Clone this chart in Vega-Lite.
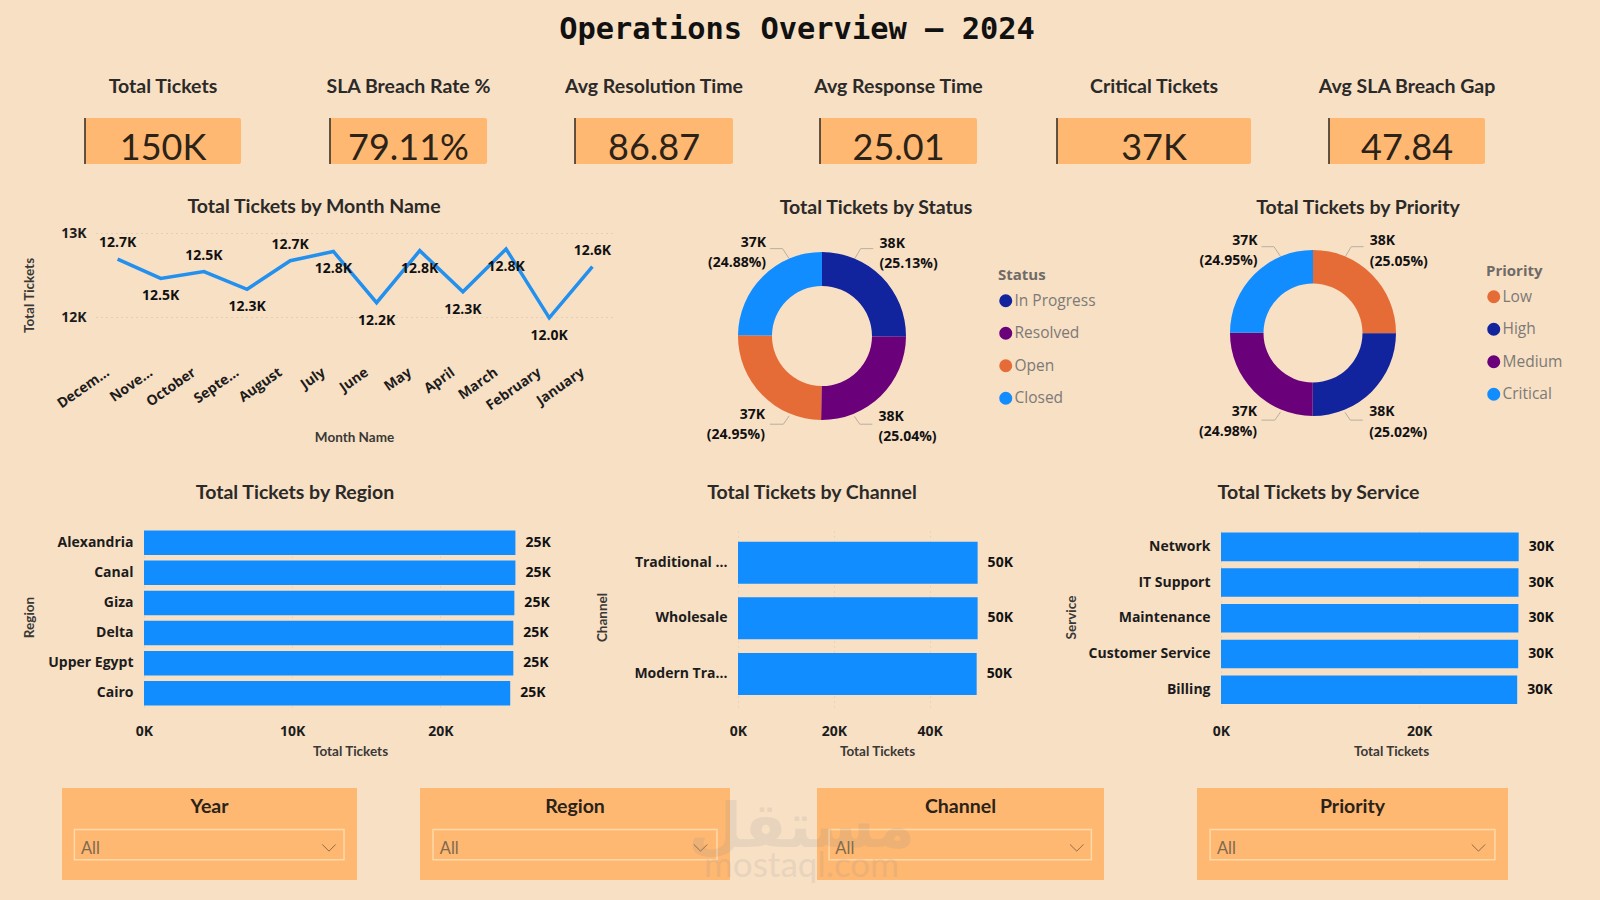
{"$schema":"https://vega.github.io/schema/vega-lite/v6.json","background":"#F8E0C5","padding":0,"spacing":0,"bounds":"flush",
"datasets":{
"months":[{"month":"Decem...","tickets":12690,"label":"12.7K"},{"month":"Nove...","tickets":12460,"label":"12.5K"},{"month":"October","tickets":12540,"label":"12.5K"},{"month":"Septe...","tickets":12330,"label":"12.3K"},{"month":"August","tickets":12670,"label":"12.7K"},{"month":"July","tickets":12780,"label":"12.8K"},{"month":"June","tickets":12170,"label":"12.2K"},{"month":"May","tickets":12790,"label":"12.8K"},{"month":"April","tickets":12300,"label":"12.3K"},{"month":"March","tickets":12810,"label":"12.8K"},{"month":"February","tickets":11990,"label":"12.0K"},{"month":"January","tickets":12600,"label":"12.6K"}],
"status":[{"status":"In Progress","rank":1,"tickets":37695,"label":"38K\n(25.13%)"},{"status":"Resolved","rank":2,"tickets":37560,"label":"38K\n(25.04%)"},{"status":"Open","rank":3,"tickets":37425,"label":"37K\n(24.95%)"},{"status":"Closed","rank":4,"tickets":37320,"label":"37K\n(24.88%)"}],
"priority":[{"priority":"Low","rank":1,"tickets":37575,"label":"38K\n(25.05%)"},{"priority":"High","rank":2,"tickets":37530,"label":"38K\n(25.02%)"},{"priority":"Medium","rank":3,"tickets":37470,"label":"37K\n(24.98%)"},{"priority":"Critical","rank":4,"tickets":37425,"label":"37K\n(24.95%)"}],
"leaders":[{"c":"TR","i":0,"lx":0.39,"ly":0.92},{"c":"TR","i":1,"lx":0.46,"ly":1.04},{"c":"TR","i":2,"lx":0.61,"ly":1.04},{"c":"BR","i":0,"lx":0.385,"ly":-0.956},{"c":"BR","i":1,"lx":0.45,"ly":-1.05},{"c":"BR","i":2,"lx":0.6,"ly":-1.05},{"c":"TL","i":0,"lx":-0.39,"ly":0.92},{"c":"TL","i":1,"lx":-0.47,"ly":1.04},{"c":"TL","i":2,"lx":-0.62,"ly":1.04},{"c":"BL","i":0,"lx":-0.39,"ly":-0.95},{"c":"BL","i":1,"lx":-0.46,"ly":-1.05},{"c":"BL","i":2,"lx":-0.62,"ly":-1.05}],
"region":[{"name":"Alexandria","tickets":25070,"label":"25K"},{"name":"Canal","tickets":25070,"label":"25K"},{"name":"Giza","tickets":25000,"label":"25K"},{"name":"Delta","tickets":24930,"label":"25K"},{"name":"Upper Egypt","tickets":24930,"label":"25K"},{"name":"Cairo","tickets":24720,"label":"25K"}],
"channel":[{"name":"Traditional ...","tickets":50000,"label":"50K"},{"name":"Wholesale","tickets":50000,"label":"50K"},{"name":"Modern Tra...","tickets":49800,"label":"50K"}],
"service":[{"name":"Network","tickets":30050,"label":"30K"},{"name":"IT Support","tickets":30030,"label":"30K"},{"name":"Maintenance","tickets":30020,"label":"30K"},{"name":"Customer Service","tickets":30000,"label":"30K"},{"name":"Billing","tickets":29900,"label":"30K"}]
},
"config":{"view":{"stroke":null},"font":"Open Sans",
"title":{"font":"Lato","fontSize":19.5,"fontWeight":"bold","color":"#2b2a28","anchor":"middle"},
"axis":{"domain":false,"ticks":false,"labelFlush":false,"labelFont":"Open Sans","labelFontWeight":"bold","labelFontSize":14,"labelColor":"#1c1c1c","titleFont":"Lato","titleFontWeight":"bold","titleFontSize":13.5,"titleColor":"#3a3936"},
"legend":{"titleFont":"Open Sans","titleFontWeight":"bold","titleFontSize":15,"titleColor":"#6f6b66","labelFont":"Open Sans","labelFontSize":15.5,"labelColor":"#7d7a75","symbolType":"circle","symbolSize":170,"symbolStrokeWidth":0,"rowPadding":15.5,"labelOffset":1,"titlePadding":10},
"text":{"font":"Open Sans","fontWeight":"bold","fontSize":14,"color":"#111111"}},
"vconcat":[
{"width":1600,"height":60,"data":{"values":[{"label":"Operations Overview — 2024"}]},"mark":{"type":"text","font":"DejaVu Sans Mono","fontWeight":"bold","fontSize":30.4,"color":"#111111","dx":-3},"encoding":{"text":{"field":"label"}}},
{"width":1600,"height":58,"data":{"values":[{"f":0}]},"mark":{"type":"point","opacity":0}},
{"spacing":0,"bounds":"flush","hconcat":[
{"width":85,"height":46,"data":{"values":[{"f":0}]},"mark":{"type":"point","opacity":0}},
{"width":156,"height":46,"title":{"text":"Total Tickets","offset":20},"view":{"fill":"#FEB872","cornerRadius":2},"data":{"values":[{"label":"150K"}]},"layer":[{"mark":{"type":"rule","color":"#3a3028","strokeWidth":1.6},"encoding":{"x":{"datum":0,"scale":{"domain":[0,1]},"axis":null}}},{"mark":{"type":"text","font":"Lato","fontWeight":"normal","fontSize":36,"color":"#2b2218","dy":8},"encoding":{"text":{"field":"label"}}}]},
{"width":89,"height":46,"data":{"values":[{"f":0}]},"mark":{"type":"point","opacity":0}},
{"width":157,"height":46,"title":{"text":"SLA Breach Rate %","offset":20},"view":{"fill":"#FEB872","cornerRadius":2},"data":{"values":[{"label":"79.11%"}]},"layer":[{"mark":{"type":"rule","color":"#3a3028","strokeWidth":1.6},"encoding":{"x":{"datum":0,"scale":{"domain":[0,1]},"axis":null}}},{"mark":{"type":"text","font":"Lato","fontWeight":"normal","fontSize":36,"color":"#2b2218","dy":8},"encoding":{"text":{"field":"label"}}}]},
{"width":88,"height":46,"data":{"values":[{"f":0}]},"mark":{"type":"point","opacity":0}},
{"width":158,"height":46,"title":{"text":"Avg Resolution Time","offset":20},"view":{"fill":"#FEB872","cornerRadius":2},"data":{"values":[{"label":"86.87"}]},"layer":[{"mark":{"type":"rule","color":"#3a3028","strokeWidth":1.6},"encoding":{"x":{"datum":0,"scale":{"domain":[0,1]},"axis":null}}},{"mark":{"type":"text","font":"Lato","fontWeight":"normal","fontSize":36,"color":"#2b2218","dy":8},"encoding":{"text":{"field":"label"}}}]},
{"width":87,"height":46,"data":{"values":[{"f":0}]},"mark":{"type":"point","opacity":0}},
{"width":157,"height":46,"title":{"text":"Avg Response Time","offset":20},"view":{"fill":"#FEB872","cornerRadius":2},"data":{"values":[{"label":"25.01"}]},"layer":[{"mark":{"type":"rule","color":"#3a3028","strokeWidth":1.6},"encoding":{"x":{"datum":0,"scale":{"domain":[0,1]},"axis":null}}},{"mark":{"type":"text","font":"Lato","fontWeight":"normal","fontSize":36,"color":"#2b2218","dy":8},"encoding":{"text":{"field":"label"}}}]},
{"width":80,"height":46,"data":{"values":[{"f":0}]},"mark":{"type":"point","opacity":0}},
{"width":194,"height":46,"title":{"text":"Critical Tickets","offset":20},"view":{"fill":"#FEB872","cornerRadius":2},"data":{"values":[{"label":"37K"}]},"layer":[{"mark":{"type":"rule","color":"#3a3028","strokeWidth":1.6},"encoding":{"x":{"datum":0,"scale":{"domain":[0,1]},"axis":null}}},{"mark":{"type":"text","font":"Lato","fontWeight":"normal","fontSize":36,"color":"#2b2218","dy":8},"encoding":{"text":{"field":"label"}}}]},
{"width":78,"height":46,"data":{"values":[{"f":0}]},"mark":{"type":"point","opacity":0}},
{"width":156,"height":46,"title":{"text":"Avg SLA Breach Gap","offset":20},"view":{"fill":"#FEB872","cornerRadius":2},"data":{"values":[{"label":"47.84"}]},"layer":[{"mark":{"type":"rule","color":"#3a3028","strokeWidth":1.6},"encoding":{"x":{"datum":0,"scale":{"domain":[0,1]},"axis":null}}},{"mark":{"type":"text","font":"Lato","fontWeight":"normal","fontSize":36,"color":"#2b2218","dy":8},"encoding":{"text":{"field":"label"}}}]}
]},
{"width":1600,"height":115,"data":{"values":[{"f":0}]},"mark":{"type":"point","opacity":0}},
{"spacing":0,"bounds":"flush","resolve":{"scale":{"color":"independent"},"legend":{"color":"independent"}},"hconcat":[
{"width":96,"height":206,"data":{"values":[{"f":0}]},"mark":{"type":"point","opacity":0}},
{"width":518,"height":84,"title":{"text":"Total Tickets by Month Name","dx":-41,"offset":9},"data":{"name":"months"},
"encoding":{"x":{"field":"month","type":"ordinal","sort":null,"scale":{"type":"point","padding":0.5},"axis":{"title":"Month Name","labelAngle":-35,"labelAlign":"right","labelBaseline":"top","labelPadding":48,"labelOffset":-14,"labelFontSize":14,"titleX":258,"titleY":120,"titleBaseline":"middle","labelOverlap":false}},
"y":{"field":"tickets","type":"quantitative","scale":{"domain":[12000,13000]},"axis":{"title":"Total Tickets","values":[12000,13000],"labelExpr":"datum.value/1000+'K'","grid":true,"gridDash":[1,4],"gridColor":"#c9bfae","labelPadding":10,"titleX":-60,"titleY":62}}},
"layer":[{"mark":{"type":"line","color":"#2490EE","strokeWidth":3.5,"clip":false}},
{"transform":[{"filter":{"field":"month","oneOf":["Decem...","October","August","January"]}}],"mark":{"type":"text","dy":-16},"encoding":{"text":{"field":"label"}}},
{"transform":[{"filter":{"field":"month","oneOf":["Nove...","Septe...","July","June","May","April","March","February"]}}],"mark":{"type":"text","dy":18},"encoding":{"text":{"field":"label"}}}]},
{"width":124,"height":206,"data":{"values":[{"f":0}]},"mark":{"type":"point","opacity":0}},
{"width":168,"height":206,"title":{"text":"Total Tickets by Status","dx":54,"offset":15},
"layer":[
{"data":{"name":"leaders"},"mark":{"type":"line","color":"#b8aea0","strokeWidth":1},"encoding":{"x":{"field":"lx","type":"quantitative","scale":{"domain":[-1,1]},"axis":null},"y":{"field":"ly","type":"quantitative","scale":{"domain":[-1.226,1.226]},"axis":null},"detail":{"field":"c"},"order":{"field":"i"}}},
{"data":{"name":"status"},"mark":{"type":"arc","outerRadius":84,"innerRadius":50},"encoding":{"theta":{"field":"tickets","type":"quantitative","stack":true},"order":{"field":"rank"},"color":{"field":"status","type":"nominal","scale":{"domain":["In Progress","Resolved","Open","Closed"],"range":["#12239E","#6B007B","#E66C37","#118DFF"]},"legend":{"title":"Status","orient":"none","legendX":260,"legendY":35}}}},
{"data":{"name":"status"},"mark":{"type":"text","radius":122,"lineBreak":"\n","lineHeight":20.5,"align":"left","dx":-29,"dy":-6.5},"encoding":{"theta":{"field":"tickets","type":"quantitative","stack":true},"order":{"field":"rank"},"detail":{"field":"status"},"text":{"condition":{"test":"datum.rank<=2","field":"label"},"value":""}}},
{"data":{"name":"status"},"mark":{"type":"text","radius":122,"lineBreak":"\n","lineHeight":20.5,"align":"right","dx":30,"dy":-6.5},"encoding":{"theta":{"field":"tickets","type":"quantitative","stack":true},"order":{"field":"rank"},"detail":{"field":"status"},"text":{"condition":{"test":"datum.rank>2","field":"label"},"value":""}}}
]},
{"width":324,"height":206,"data":{"values":[{"f":0}]},"mark":{"type":"point","opacity":0}},
{"width":166,"height":200,"title":{"text":"Total Tickets by Priority","dx":45,"offset":15},
"layer":[
{"data":{"name":"leaders"},"mark":{"type":"line","color":"#b8aea0","strokeWidth":1},"encoding":{"x":{"field":"lx","type":"quantitative","scale":{"domain":[-1,1]},"axis":null},"y":{"field":"ly","type":"quantitative","scale":{"domain":[-1.205,1.205]},"axis":null},"detail":{"field":"c"},"order":{"field":"i"}}},
{"data":{"name":"priority"},"mark":{"type":"arc","outerRadius":83,"innerRadius":49.5},"encoding":{"theta":{"field":"tickets","type":"quantitative","stack":true},"order":{"field":"rank"},"color":{"field":"priority","type":"nominal","scale":{"domain":["Low","High","Medium","Critical"],"range":["#E66C37","#12239E","#6B007B","#118DFF"]},"legend":{"title":"Priority","orient":"none","legendX":256,"legendY":31}}}},
{"data":{"name":"priority"},"mark":{"type":"text","radius":121,"lineBreak":"\n","lineHeight":20.5,"align":"left","dx":-29,"dy":-6.5},"encoding":{"theta":{"field":"tickets","type":"quantitative","stack":true},"order":{"field":"rank"},"detail":{"field":"priority"},"text":{"condition":{"test":"datum.rank<=2","field":"label"},"value":""}}},
{"data":{"name":"priority"},"mark":{"type":"text","radius":121,"lineBreak":"\n","lineHeight":20.5,"align":"right","dx":30,"dy":-6.5},"encoding":{"theta":{"field":"tickets","type":"quantitative","stack":true},"order":{"field":"rank"},"detail":{"field":"priority"},"text":{"condition":{"test":"datum.rank>2","field":"label"},"value":""}}}
]}
]},
{"width":1600,"height":294,"data":{"values":[{"f":0}]},"mark":{"type":"point","opacity":0}},
{"spacing":0,"bounds":"flush","hconcat":[
{"width":144,"height":180,"data":{"values":[{"f":0}]},"mark":{"type":"point","opacity":0}},
{"width":400,"height":180,"title":{"text":"Total Tickets by Region","dx":-49,"offset":24},"data":{"name":"region"},
"encoding":{"y":{"field":"name","type":"nominal","sort":null,"scale":{"paddingInner":0.186,"paddingOuter":0.083,"align":0.7},"axis":{"title":"Region","labelPadding":11,"titleX":-108}},
"x":{"field":"tickets","type":"quantitative","scale":{"domain":[0,27000]},"axis":{"title":"Total Tickets","values":[0,10000,20000],"labelExpr":"datum.value/1000+'K'","grid":true,"gridDash":[1,4],"gridColor":"#d4c8b4","labelPadding":17,"titleX":206,"titleY":44,"titleBaseline":"middle"}}},
"layer":[{"mark":{"type":"bar","color":"#118DFF"}},{"mark":{"type":"text","align":"left","dx":10},"encoding":{"text":{"field":"label"}}}]},
{"width":194,"height":180,"data":{"values":[{"f":0}]},"mark":{"type":"point","opacity":0}},
{"width":254,"height":180,"title":{"text":"Total Tickets by Channel","dx":-53,"offset":24},"data":{"name":"channel"},
"encoding":{"y":{"field":"name","type":"nominal","sort":null,"scale":{"paddingInner":0.245,"paddingOuter":0.241,"align":0.55},"axis":{"title":"Channel","labelPadding":11,"titleX":-129}},
"x":{"field":"tickets","type":"quantitative","scale":{"domain":[0,53000]},"axis":{"title":"Total Tickets","values":[0,20000,40000],"labelExpr":"datum.value/1000+'K'","grid":true,"gridDash":[1,4],"gridColor":"#d4c8b4","labelPadding":17,"titleX":139,"titleY":44,"titleBaseline":"middle"}}},
"layer":[{"mark":{"type":"bar","color":"#118DFF"}},{"mark":{"type":"text","align":"left","dx":10},"encoding":{"text":{"field":"label"}}}]},
{"width":229,"height":180,"data":{"values":[{"f":0}]},"mark":{"type":"point","opacity":0}},
{"width":317,"height":180,"title":{"text":"Total Tickets by Service","dx":-61,"offset":24},"data":{"name":"service"},
"encoding":{"y":{"field":"name","type":"nominal","sort":null,"scale":{"paddingInner":0.2,"paddingOuter":0.12,"align":0.65},"axis":{"title":"Service","labelPadding":11,"titleX":-143}},
"x":{"field":"tickets","type":"quantitative","scale":{"domain":[0,32000]},"axis":{"title":"Total Tickets","values":[0,20000],"labelExpr":"datum.value/1000+'K'","grid":true,"gridDash":[1,4],"gridColor":"#d4c8b4","labelPadding":17,"titleX":170,"titleY":44,"titleBaseline":"middle"}}},
"layer":[{"mark":{"type":"bar","color":"#118DFF"}},{"mark":{"type":"text","align":"left","dx":10},"encoding":{"text":{"field":"label"}}}]}
]},
{"width":1600,"height":261,"data":{"values":[{"f":0}]},"mark":{"type":"point","opacity":0}},
{"spacing":0,"bounds":"flush","hconcat":[
{"width":62,"height":92,"data":{"values":[{"f":0}]},"mark":{"type":"point","opacity":0}},
{"width":295,"height":92,"view":{"fill":"#FEB872"},"data":{"values":[{"name":"Year","value":"All"}]},
"layer":[
{"mark":{"type":"rect","fill":null,"stroke":"#FFD9A8","strokeWidth":1.5},"encoding":{"x":{"datum":4.2,"scale":{"domain":[0,100]},"axis":null},"x2":{"datum":95.6},"y":{"datum":55,"scale":{"domain":[0,100]},"axis":null},"y2":{"datum":22}}},
{"mark":{"type":"text","font":"Lato","fontSize":19.5,"color":"#2b2218"},"encoding":{"y":{"datum":79},"text":{"field":"name"}}},
{"mark":{"type":"text","font":"Lato","fontWeight":"normal","fontSize":16.5,"color":"#80694e","align":"left"},"encoding":{"x":{"datum":6.4},"y":{"datum":34},"text":{"field":"value"}}},
{"mark":{"type":"point","shape":"M-1,-0.5L0,0.5L1,-0.5","filled":false,"stroke":"#5d4c38","strokeWidth":1,"size":180},"encoding":{"x":{"datum":90.5},"y":{"datum":35}}}
]},
{"width":63,"height":92,"data":{"values":[{"f":0}]},"mark":{"type":"point","opacity":0}},
{"width":310,"height":92,"view":{"fill":"#FEB872"},"data":{"values":[{"name":"Region","value":"All"}]},
"layer":[
{"mark":{"type":"rect","fill":null,"stroke":"#FFD9A8","strokeWidth":1.5},"encoding":{"x":{"datum":4.2,"scale":{"domain":[0,100]},"axis":null},"x2":{"datum":95.8},"y":{"datum":55,"scale":{"domain":[0,100]},"axis":null},"y2":{"datum":22}}},
{"mark":{"type":"text","font":"Lato","fontSize":19.5,"color":"#2b2218"},"encoding":{"y":{"datum":79},"text":{"field":"name"}}},
{"mark":{"type":"text","font":"Lato","fontWeight":"normal","fontSize":16.5,"color":"#80694e","align":"left"},"encoding":{"x":{"datum":6.4},"y":{"datum":34},"text":{"field":"value"}}},
{"mark":{"type":"point","shape":"M-1,-0.5L0,0.5L1,-0.5","filled":false,"stroke":"#5d4c38","strokeWidth":1,"size":180},"encoding":{"x":{"datum":90.5},"y":{"datum":35}}}
]},
{"width":87,"height":92,"data":{"values":[{"f":0}]},"mark":{"type":"point","opacity":0}},
{"width":287,"height":92,"view":{"fill":"#FEB872"},"data":{"values":[{"name":"Channel","value":"All"}]},
"layer":[
{"mark":{"type":"rect","fill":null,"stroke":"#FFD9A8","strokeWidth":1.5},"encoding":{"x":{"datum":4.2,"scale":{"domain":[0,100]},"axis":null},"x2":{"datum":95.6},"y":{"datum":55,"scale":{"domain":[0,100]},"axis":null},"y2":{"datum":22}}},
{"mark":{"type":"text","font":"Lato","fontSize":19.5,"color":"#2b2218"},"encoding":{"y":{"datum":79},"text":{"field":"name"}}},
{"mark":{"type":"text","font":"Lato","fontWeight":"normal","fontSize":16.5,"color":"#80694e","align":"left"},"encoding":{"x":{"datum":6.4},"y":{"datum":34},"text":{"field":"value"}}},
{"mark":{"type":"point","shape":"M-1,-0.5L0,0.5L1,-0.5","filled":false,"stroke":"#5d4c38","strokeWidth":1,"size":180},"encoding":{"x":{"datum":90.5},"y":{"datum":35}}},
{"data":{"values":[{"mark":"مستقل"}]},"mark":{"type":"text","font":"DejaVu Sans","fontWeight":"bold","fontSize":62,"color":"#8a8a8a","opacity":0.14,"dx":-159,"dy":-6},"encoding":{"text":{"field":"mark"}}},
{"data":{"values":[{"mark":"mostaql.com"}]},"mark":{"type":"text","font":"Lato","fontWeight":"normal","fontSize":35,"color":"#8a8a8a","opacity":0.14,"dx":-159,"dy":32},"encoding":{"text":{"field":"mark"}}}
]},
{"width":93,"height":92,"data":{"values":[{"f":0}]},"mark":{"type":"point","opacity":0}},
{"width":311,"height":92,"view":{"fill":"#FEB872"},"data":{"values":[{"name":"Priority","value":"All"}]},
"layer":[
{"mark":{"type":"rect","fill":null,"stroke":"#FFD9A8","strokeWidth":1.5},"encoding":{"x":{"datum":4.2,"scale":{"domain":[0,100]},"axis":null},"x2":{"datum":95.8},"y":{"datum":55,"scale":{"domain":[0,100]},"axis":null},"y2":{"datum":22}}},
{"mark":{"type":"text","font":"Lato","fontSize":19.5,"color":"#2b2218"},"encoding":{"y":{"datum":79},"text":{"field":"name"}}},
{"mark":{"type":"text","font":"Lato","fontWeight":"normal","fontSize":16.5,"color":"#80694e","align":"left"},"encoding":{"x":{"datum":6.4},"y":{"datum":34},"text":{"field":"value"}}},
{"mark":{"type":"point","shape":"M-1,-0.5L0,0.5L1,-0.5","filled":false,"stroke":"#5d4c38","strokeWidth":1,"size":180},"encoding":{"x":{"datum":90.5},"y":{"datum":35}}}
]}
]},
{"width":1600,"height":112,"data":{"values":[{"f":0}]},"mark":{"type":"point","opacity":0}}
]}
